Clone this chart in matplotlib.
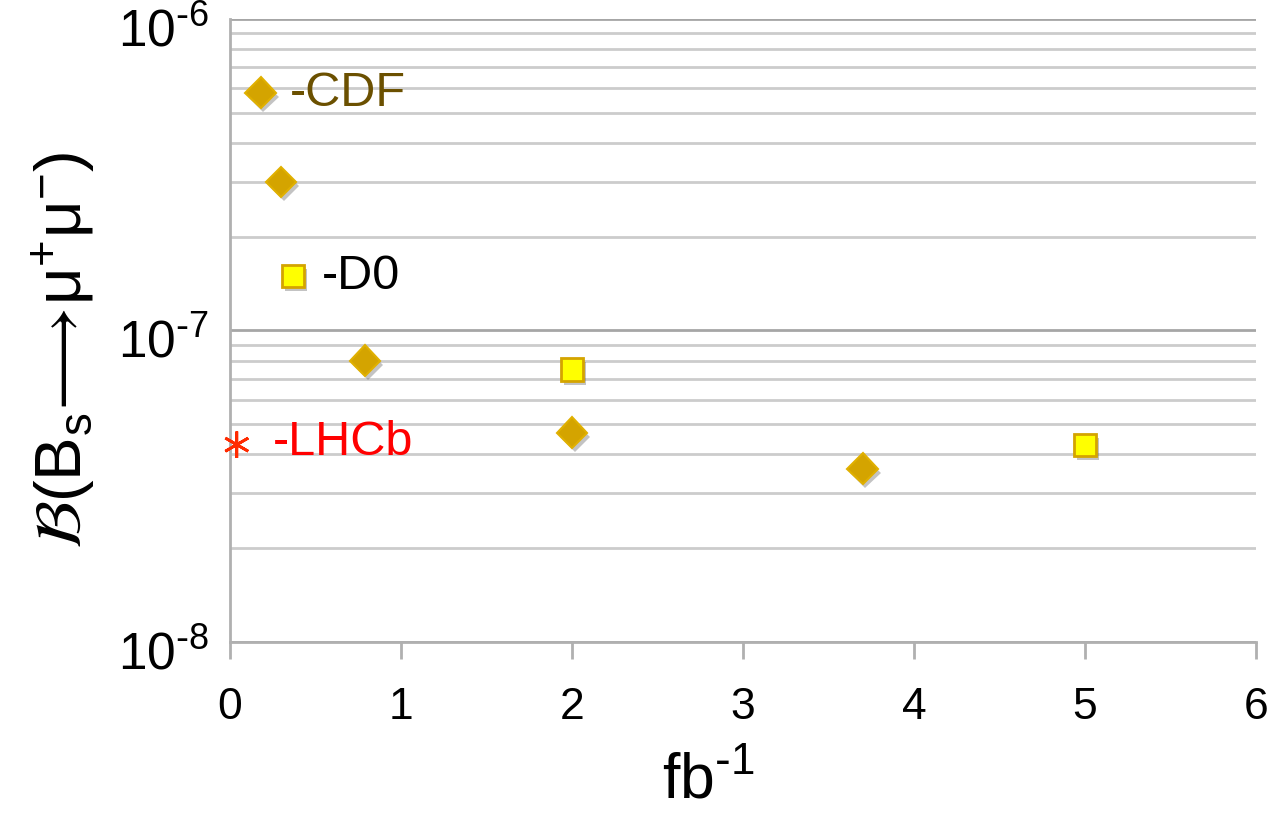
import numpy as np
import matplotlib
matplotlib.use('Agg')
import matplotlib.pyplot as plt
import matplotlib.patheffects as pe
from matplotlib.transforms import ScaledTranslation

plt.rcParams['font.family'] = ['Liberation Sans', 'DejaVu Sans']
plt.rcParams['mathtext.default'] = 'regular'

# Bs -> mu+ mu- limits vs integrated luminosity
cdf_lumi = [0.18, 0.30, 0.79, 2.0, 3.7]
cdf_br = [5.8e-7, 3.0e-7, 8.0e-8, 4.7e-8, 3.6e-8]

d0_lumi = [0.37, 2.0, 5.0]
d0_br = [1.5e-7, 7.5e-8, 4.3e-8]

lhcb_lumi = [0.04]
lhcb_br = [4.3e-8]

ytick_vals = [1e-8, 1e-7, 1e-6]
ytick_text = [r'$10^{\text{-}8}$', r'$10^{\text{-}7}$', r'$10^{\text{-}6}$']

grid_major = '#a6a6a6'
grid_minor = '#cccccc'
gold = '#d4a400'

fig = plt.figure(figsize=(12.81, 8.2), dpi=100)
ax = fig.add_axes([0.1795, 0.2159, 0.801, 0.7597])

shadow = [pe.SimplePatchShadow(offset=(2, -3), shadow_rgbFace='#555555', alpha=0.35), pe.Normal()]

ax.plot(cdf_lumi, cdf_br, 'D', ms=15.5, color=gold, mec='#e0b000', mew=1.5,
        path_effects=shadow, zorder=5, clip_on=False)
ax.plot(d0_lumi, d0_br, 's', ms=16, color='#ffff00', mec=gold, mew=2,
        path_effects=shadow, zorder=5, clip_on=False)
ax.plot(lhcb_lumi, lhcb_br, marker=(6, 2, 0), ls='none', ms=19, color='#ff2a00',
        mew=2, path_effects=shadow, zorder=5, clip_on=False)

ax.text(0.35, 5.8e-7, '-CDF', color='#6b5000', fontsize=35, va='center')
ax.text(0.54, 1.5e-7, '-D0', color='black', fontsize=35, va='center')
ax.text(0.25, 4.4e-8, '-LHCb', color='#ff0000', fontsize=35, va='center')

ax.set_yscale('log')
ax.set_ylim(1e-8, 1e-6)
ax.set_xlim(0, 6)

ax.set_yticks(ytick_vals)
ax.set_yticklabels(ytick_text, fontsize=37)
ax.yaxis.set_minor_formatter(plt.NullFormatter())
ax.tick_params(axis='y', which='both', length=0, pad=15)
for lab in ax.get_yticklabels():
    lab.set_transform(lab.get_transform() + ScaledTranslation(0, -7 / 100, fig.dpi_scale_trans))
ax.set_xticks(range(0, 7))
ax.tick_params(axis='x', length=12, width=2, color='#b0b0b0', direction='out',
               labelsize=32, pad=20)

ax.grid(True, which='major', axis='y', color=grid_major, lw=2)
ax.grid(True, which='minor', axis='y', color=grid_minor, lw=2)
ax.set_axisbelow(True)

for side in ['top', 'right']:
    ax.spines[side].set_visible(False)
for side in ['left', 'bottom']:
    ax.spines[side].set_color('#b0b0b0')
    ax.spines[side].set_linewidth(2)

ax.set_xlabel(r'fb$^{\text{-}1}$', fontsize=45)
ax.xaxis.set_label_coords(0.466, -0.175)
ax.set_ylabel(r'$\mathcal{B}$(B$_{s}\!\longrightarrow\!$μ$^{+}$μ$^{-}$)',
              fontsize=47, va='center')
ax.yaxis.set_label_coords(-0.162, 0.47)

fig.savefig('out.png', dpi=100)
